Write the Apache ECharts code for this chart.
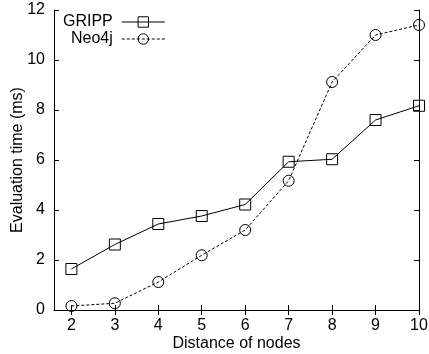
<!DOCTYPE html>
<html>
<head>
<meta charset="utf-8">
<script src="https://cdn.jsdelivr.net/npm/echarts@6/dist/echarts.min.js"></script>
<style>
  html, body { margin: 0; padding: 0; background: #fff; }
  #chart { width: 429px; height: 354px; }
</style>
</head>
<body>
<div id="chart"></div>
<script>
const distances = [2, 3, 4, 5, 6, 7, 8, 9, 10]
const gripp = [1.64, 2.62, 3.44, 3.76, 4.22, 5.93, 6.03, 7.6, 8.17]
const neo4j = [0.16, 0.27, 1.12, 2.19, 3.2, 5.17, 9.12, 11.0, 11.4]
const xTicks = [2, 3, 4, 5, 6, 7, 8, 9, 10]

const font = 'Liberation Sans, Arial, sans-serif'
const black = '#000'

const myChart = echarts.init(document.getElementById('chart'))

const toPoints = (vals) => distances.map((d, i) => [d, vals[i]])

const xBase = {
    type: 'value',
    min: 1.6,
    max: 10,
    axisLine: {show: true, lineStyle: {color: black, width: 1}},
    axisTick: {show: true, inside: true, length: 5, customValues: xTicks, lineStyle: {color: black}},
    splitLine: {show: false}
}
const yBase = {
    type: 'value',
    min: 0,
    max: 12,
    interval: 2,
    axisLine: {show: true, lineStyle: {color: black, width: 1}},
    axisTick: {show: true, inside: true, length: 5, lineStyle: {color: black}},
    splitLine: {show: false}
}

const option = {
    animation: false,
    backgroundColor: '#fff',
    textStyle: {fontFamily: font, color: black},
    grid: {left: 54, right: 10, top: 10, bottom: 44, outerBoundsMode: 'none'},
    legend: {
        orient: 'vertical',
        left: 63,
        top: 14,
        padding: 0,
        align: 'right',
        itemWidth: 43,
        itemHeight: 13,
        itemGap: 1,
        lineStyle: {width: 1},
        itemStyle: {borderWidth: 1},
        textStyle: {fontFamily: font, fontSize: 16, color: black, padding: [0, 4, 0, 0]},
        data: ['GRIPP', 'Neo4j']
    },
    xAxis: [
        {
            ...xBase,
            position: 'bottom',
            name: 'Distance of nodes',
            nameLocation: 'middle',
            nameGap: 26,
            nameMoveOverlap: false,
            nameTextStyle: {fontFamily: font, fontSize: 16, color: black},
            axisLabel: {show: true, customValues: xTicks, margin: 8, fontFamily: font, fontSize: 16, color: black}
        },
        {...xBase, position: 'top', axisLabel: {show: false}}
    ],
    yAxis: [
        {
            ...yBase,
            position: 'left',
            name: 'Evaluation time (ms)',
            nameLocation: 'middle',
            nameGap: 28,
            nameMoveOverlap: false,
            nameTextStyle: {fontFamily: font, fontSize: 16, color: black},
            axisLabel: {show: true, margin: 9, fontFamily: font, fontSize: 16, color: black}
        },
        {...yBase, position: 'right', axisLabel: {show: false}}
    ],
    series: [
        {
            name: 'GRIPP',
            symbol: 'rect',
            data: toPoints(gripp),
            lineStyle: {color: black, width: 1, type: 'solid'}
        },
        {
            name: 'Neo4j',
            symbol: 'circle',
            data: toPoints(neo4j),
            lineStyle: {color: black, width: 1, type: [3, 2]}
        }
    ].map(obj => {
        return {
            ...obj,
            type: 'line',
            xAxisIndex: 0,
            yAxisIndex: 0,
            symbolSize: 11,
            showAllSymbol: true,
            itemStyle: {color: 'rgba(0,0,0,0)', borderColor: black, borderWidth: 1},
            emphasis: {disabled: true}
        }
    })
}
myChart.setOption(option)
</script>
</body>
</html>
